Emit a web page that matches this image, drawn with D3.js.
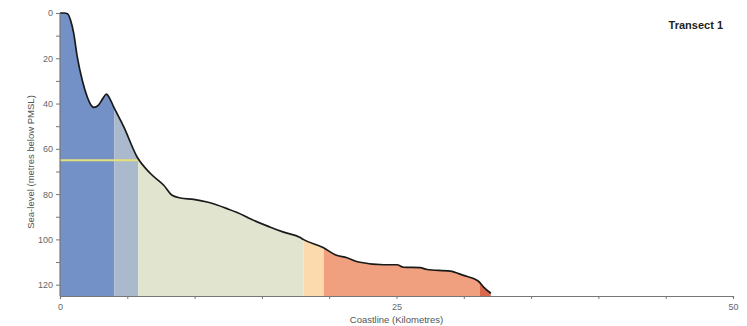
<!DOCTYPE html>
<html>
<head>
<meta charset="utf-8">
<script src="https://cdn.jsdelivr.net/npm/d3@7/dist/d3.min.js"></script>
<style>
  html, body { margin: 0; padding: 0; background: #fff; }
  svg { display: block; font-family: "Liberation Sans", Arial, sans-serif; }
</style>
</head>
<body>
<svg id="chart" width="747" height="326"></svg>
<script>
// Seabed profile along the transect: distance from coast (km) and depth (m below PMSL)
const distanceKm = [0, 0.3, 0.56, 0.78, 1.02, 1.28, 1.65, 2.02, 2.3, 2.51, 2.86, 3.2, 3.45, 3.7, 3.99, 4.74, 5.73, 6.72, 7.71, 8.33, 8.95, 9.93, 10.93, 12.41, 13.65, 14.14, 15.63, 16.61, 17.85, 18.1, 19.58, 20.45, 21.32, 22.18, 24.04, 25.03, 25.52, 26.76, 27.26, 28.99, 29.98, 31.09, 31.47, 32.01];
const depthM     = [0, 0, 0.3, 3.1, 9.0, 19.3, 29.6, 37.0, 40.6, 41.7, 40.7, 37.6, 35.8, 37.8, 41.5, 50.3, 63.6, 70.9, 76.1, 80.5, 81.7, 82.3, 83.5, 86.4, 89.4, 90.9, 94.6, 96.8, 99.2, 100.1, 103.7, 106.8, 108.1, 110.0, 111.2, 111.2, 112.3, 112.5, 113.3, 114.0, 115.9, 118.5, 121.1, 123.8];

// Shaded zones beneath the profile (boundaries in km) and their fills
const zoneBreaks = [0, 4.04, 5.8, 18.1, 19.6, 31.2, 32.01];
const zoneColors = ["#7391c6", "#aab9cc", "#e1e5cf", "#fdd9ae", "#f0a07f", "#d8694f"];

// Reference depth marker
const markerDepth = 65;
const markerEndKm = 5.8;

const xTickLabels = [0, 25, 50];
const yTickLabels = [0, 20, 40, 60, 80, 100, 120];

const svg = d3.select("#chart");
const margin = { left: 60, top: 13, right: 14, bottom: 30 };
const W = 747, H = 326;

const x = d3.scaleLinear().domain([0, 50]).range([margin.left, W - margin.right]);
const y = d3.scaleLinear().domain([0, 125]).range([margin.top, H - margin.bottom]);

const pts = distanceKm.map((d, i) => [d, depthM[i]]);

const area = d3.area()
  .x(d => x(d[0]))
  .y0(y(125))
  .y1(d => y(d[1]))
  .curve(d3.curveMonotoneX);

const line = d3.line()
  .x(d => x(d[0]))
  .y(d => y(d[1]))
  .curve(d3.curveMonotoneX);

const defs = svg.append("defs");
zoneColors.forEach((c, i) => {
  defs.append("clipPath").attr("id", "zone" + i)
    .append("rect")
    .attr("x", x(zoneBreaks[i]))
    .attr("y", 0)
    .attr("width", x(zoneBreaks[i + 1]) - x(zoneBreaks[i]))
    .attr("height", H);
  svg.append("path")
    .datum(pts)
    .attr("d", area)
    .attr("fill", c)
    .attr("clip-path", `url(#zone${i})`);
});

// Depth marker line
svg.append("line")
  .attr("x1", x(0)).attr("x2", x(markerEndKm))
  .attr("y1", y(markerDepth)).attr("y2", y(markerDepth))
  .attr("stroke", "#e4e07a").attr("stroke-width", 2);

// Profile outline
svg.append("path")
  .datum(pts)
  .attr("d", line)
  .attr("fill", "none")
  .attr("stroke", "#1a1a1a")
  .attr("stroke-width", 1.7);

// Axes
const axisColor = "#777";
const xAxis = svg.append("g")
  .attr("transform", `translate(0,${y(125)})`)
  .call(d3.axisBottom(x).tickValues(d3.range(0, 51, 5)).tickSize(3).tickFormat(d => xTickLabels.includes(d) ? d : ""));
const yAxis = svg.append("g")
  .attr("transform", `translate(${x(0)},0)`)
  .call(d3.axisLeft(y).tickValues(d3.range(0, 121, 10)).tickSize(4).tickFormat(d => yTickLabels.includes(d) ? d : ""));

[xAxis, yAxis].forEach(g => {
  g.select(".domain").attr("stroke", axisColor).attr("stroke-width", 1.2);
  g.selectAll(".tick line").attr("stroke", axisColor);
  g.selectAll(".tick text").attr("fill", "#666").style("font-size", "9px");
});
xAxis.selectAll(".tick text").attr("dy", "0.9em");
yAxis.select(".domain").attr("d", `M0,${y(0)}V${y(125)}`);

// Axis titles
svg.append("text")
  .attr("x", x(25)).attr("y", 323)
  .attr("text-anchor", "middle")
  .attr("fill", "#555").style("font-size", "9.5px")
  .text("Coastline (Kilometres)");

svg.append("text")
  .attr("transform", "translate(34,162) rotate(-90)")
  .attr("text-anchor", "middle")
  .attr("fill", "#555").style("font-size", "9.5px")
  .text("Sea-level (metres below PMSL)");

// Chart title
svg.append("text")
  .attr("x", 723).attr("y", 29)
  .attr("text-anchor", "end")
  .attr("fill", "#222").style("font-size", "11px").style("font-weight", "bold")
  .text("Transect 1");
</script>
</body>
</html>
